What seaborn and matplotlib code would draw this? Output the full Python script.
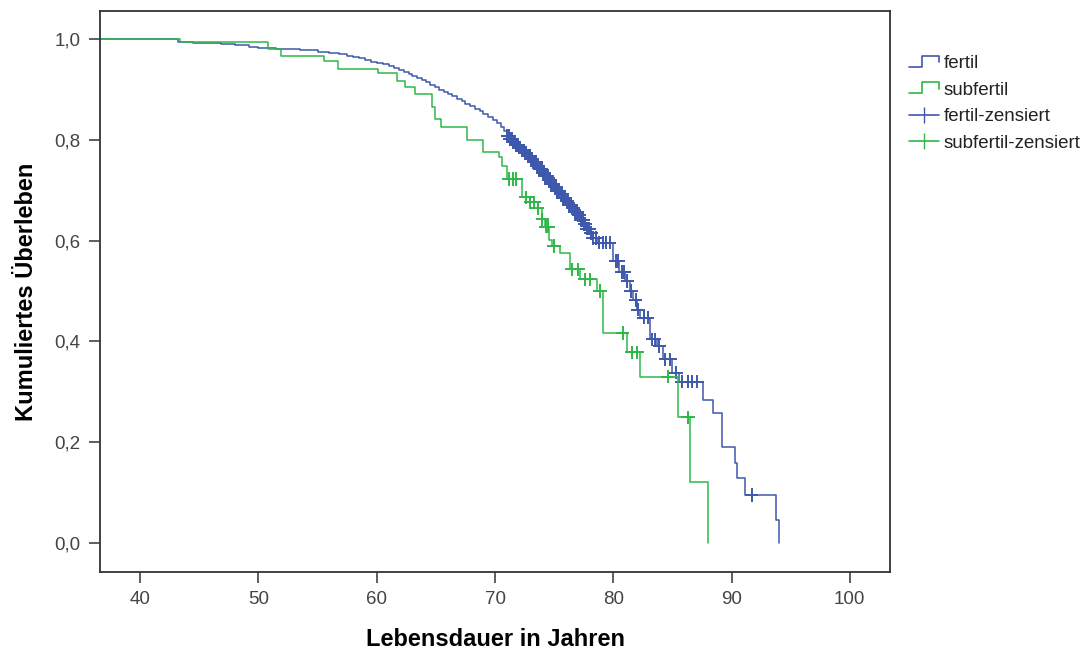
import numpy as np
import pandas as pd
import matplotlib
matplotlib.use("Agg")
import matplotlib.pyplot as plt
import seaborn as sns
from matplotlib.legend_handler import HandlerBase
from matplotlib.lines import Line2D
from matplotlib.ticker import FuncFormatter

# Kaplan-Meier steps (event time, survival after it)
fertil_t = [43.2, 44.5, 45.5, 46.8, 48.0, 49.2, 50.0, 51.5, 53.5, 55.0, 56.0, 56.8,
            57.5, 58.0, 58.5, 59.0, 59.5, 60.0, 60.5, 61.0, 61.5, 61.9, 62.3, 62.7,
            63.0, 63.4, 63.8, 64.2, 64.5, 64.9, 65.3, 65.7, 66.0, 66.4, 66.8, 67.2,
            67.5, 67.9, 68.3, 68.7, 69.0, 69.4, 69.8, 70.2, 70.5, 70.8, 71.0,
            71.25, 71.5, 71.75, 72.0, 72.25, 72.5, 72.75, 73.0, 73.25, 73.5, 73.75,
            74.0, 74.25, 74.5, 74.75, 75.0, 75.25, 75.5, 75.75, 76.0, 76.25, 76.5,
            76.75, 77.0, 77.25, 77.5, 77.75, 78.0, 78.3, 78.6,
            80.0, 80.5, 81.0, 81.4, 81.7, 82.0, 82.3, 83.1, 83.7,
            84.2, 85.0, 85.6, 87.6, 88.4, 89.2, 90.3, 90.5, 91.1, 93.8, 94.0]
fertil_s = [0.995, 0.993, 0.992, 0.990, 0.988, 0.985, 0.982, 0.980, 0.978, 0.975, 0.972, 0.970,
            0.967, 0.965, 0.962, 0.958, 0.955, 0.953, 0.950, 0.947, 0.943, 0.939, 0.935, 0.930,
            0.926, 0.922, 0.918, 0.914, 0.910, 0.905, 0.900, 0.896, 0.892, 0.887, 0.881, 0.877,
            0.872, 0.867, 0.862, 0.857, 0.852, 0.846, 0.840, 0.833, 0.826, 0.818, 0.808,
            0.802, 0.796, 0.790, 0.785, 0.779, 0.774, 0.768, 0.763, 0.756, 0.749, 0.742,
            0.735, 0.728, 0.720, 0.713, 0.706, 0.699, 0.692, 0.685, 0.678, 0.671, 0.664,
            0.657, 0.650, 0.641, 0.633, 0.624, 0.615, 0.605, 0.596,
            0.560, 0.538, 0.520, 0.500, 0.482, 0.463, 0.447, 0.404, 0.390,
            0.364, 0.338, 0.320, 0.284, 0.258, 0.191, 0.159, 0.129, 0.095, 0.046, 0.000]

subfertil_t = [43.4, 50.8, 51.9, 55.5, 56.7, 60.1, 61.7, 62.4, 63.2, 64.7, 64.9, 65.4,
               67.6, 69.0, 70.3, 70.6, 71.0, 72.3, 73.0, 73.6, 74.0, 74.2, 74.6, 74.8,
               75.5, 76.3, 77.2, 78.6, 79.1, 81.2, 82.3, 85.5, 86.5, 88.0]
subfertil_s = [0.994, 0.981, 0.967, 0.957, 0.940, 0.932, 0.917, 0.905, 0.891, 0.865, 0.841, 0.825,
               0.800, 0.775, 0.767, 0.748, 0.722, 0.686, 0.676, 0.664, 0.642, 0.628, 0.602, 0.589,
               0.576, 0.543, 0.523, 0.500, 0.417, 0.378, 0.330, 0.249, 0.121, 0.000]

# censored observations (times only, height comes from the curve)
fertil_cens = [71.05, 71.15, 71.25, 71.35, 71.45, 71.55, 71.65, 71.75, 71.85, 71.95,
               72.05, 72.15, 72.25, 72.35, 72.45, 72.55, 72.65, 72.75, 72.85, 72.95,
               73.05, 73.15, 73.25, 73.35, 73.45, 73.55, 73.65, 73.75, 73.85, 73.95,
               74.05, 74.15, 74.25, 74.35, 74.45, 74.55, 74.65, 74.75, 74.85, 74.95,
               75.05, 75.15, 75.25, 75.35, 75.45, 75.55, 75.65, 75.75, 75.85, 75.95,
               76.05, 76.15, 76.25, 76.35, 76.45, 76.55, 76.65, 76.75, 76.85, 76.95,
               77.05, 77.15, 77.25, 77.35, 77.45, 77.55, 77.65, 77.75, 77.85, 77.95,
               78.1, 78.3, 78.5, 78.8, 79.1, 79.4, 79.7, 80.2, 80.4, 80.7, 80.9, 81.2,
               81.5, 81.9, 82.1, 82.6, 82.9, 83.3, 83.5, 83.9, 84.4, 84.8, 85.3, 85.8,
               86.3, 86.7, 87.1, 91.7]
subfertil_cens = [71.2, 71.5, 71.8, 72.6, 73.0, 73.3, 73.6, 74.0, 74.3, 74.5, 75.0, 76.5,
                  77.0, 77.6, 78.0, 78.9, 80.8, 81.6, 82.0, 84.6, 86.3]

BLUE = "#3E58AC"
GREEN = "#2EB848"


def km_frame(times, surv, group):
    df = pd.DataFrame({"t": [0.0] + list(times), "s": [1.0] + list(surv)})
    df["gruppe"] = group
    return df


def cens_frame(cens, times, surv, group):
    t = np.array([0.0] + list(times))
    s = np.array([1.0] + list(surv))
    idx = np.searchsorted(t, cens, side="right") - 1
    return pd.DataFrame({"t": cens, "s": s[idx], "gruppe": group})


curves = pd.concat([km_frame(fertil_t, fertil_s, "fertil"),
                    km_frame(subfertil_t, subfertil_s, "subfertil")])
cens = pd.concat([cens_frame(fertil_cens, fertil_t, fertil_s, "fertil-zensiert"),
                  cens_frame(subfertil_cens, subfertil_t, subfertil_s, "subfertil-zensiert")])


class StepHandler(HandlerBase):
    # legend handle drawn as a small step, like the SPSS output
    def create_artists(self, legend, orig_handle, xdescent, ydescent,
                       width, height, fontsize, trans):
        x0, y0 = -xdescent, -ydescent
        xs = [x0, x0 + 0.45 * width, x0 + 0.45 * width, x0 + width, x0 + width]
        ys = [y0 + 0.1 * height, y0 + 0.1 * height, y0 + 0.95 * height,
              y0 + 0.95 * height, y0 + 0.45 * height]
        line = Line2D(xs, ys, color=orig_handle.get_color(), lw=1.2)
        line.set_transform(trans)
        return [line]


sns.set_style("white")
plt.rcParams["font.family"] = ["Liberation Sans", "DejaVu Sans"]

fig = plt.figure(figsize=(10.92, 6.54), dpi=100)
ax = fig.add_axes([0.0916, 0.1254, 0.7234, 0.8578])

sns.lineplot(data=curves, x="t", y="s", hue="gruppe", palette=[BLUE, GREEN],
             drawstyle="steps-post", lw=1.1, ax=ax, legend=False, sort=False,
             estimator=None)
sns.scatterplot(data=cens, x="t", y="s", hue="gruppe", palette=[BLUE, GREEN],
                marker="+", s=95, linewidth=1.4, ax=ax, legend=False)

ax.set_xlim(36.6, 103.4)
ax.set_ylim(-0.058, 1.056)
ax.set_xticks([40, 50, 60, 70, 80, 90, 100])
ax.set_yticks([0.0, 0.2, 0.4, 0.6, 0.8, 1.0])
ax.yaxis.set_major_formatter(FuncFormatter(lambda v, p: f"{v:.1f}".replace(".", ",")))

for sp in ax.spines.values():
    sp.set_color("#333333")
    sp.set_linewidth(1.3)
ax.tick_params(axis="both", direction="out", length=8, width=1.1, color="#333333",
               labelsize=13.5, labelcolor="#444444", pad=6, left=True, bottom=True)

ax.set_xlabel("Lebensdauer in Jahren", fontsize=17, fontweight="bold", labelpad=14,
              color="black")
ax.set_ylabel("Kumuliertes Überleben", fontsize=17, fontweight="bold", labelpad=12,
              color="black")

handles = [Line2D([], [], color=BLUE), Line2D([], [], color=GREEN),
           Line2D([], [], color=BLUE, marker="|", markersize=12, lw=1.2),
           Line2D([], [], color=GREEN, marker="|", markersize=12, lw=1.2)]
labels = ["fertil", "subfertil", "fertil-zensiert", "subfertil-zensiert"]
ax.legend(handles, labels, loc="upper left", bbox_to_anchor=(1.0, 0.955),
          frameon=False, fontsize=13.5, handlelength=1.6, handletextpad=0.25,
          labelspacing=0.5, borderaxespad=0.6, labelcolor="#222222",
          handler_map={handles[0]: StepHandler(), handles[1]: StepHandler()})

fig.savefig("out.png", dpi=100)
